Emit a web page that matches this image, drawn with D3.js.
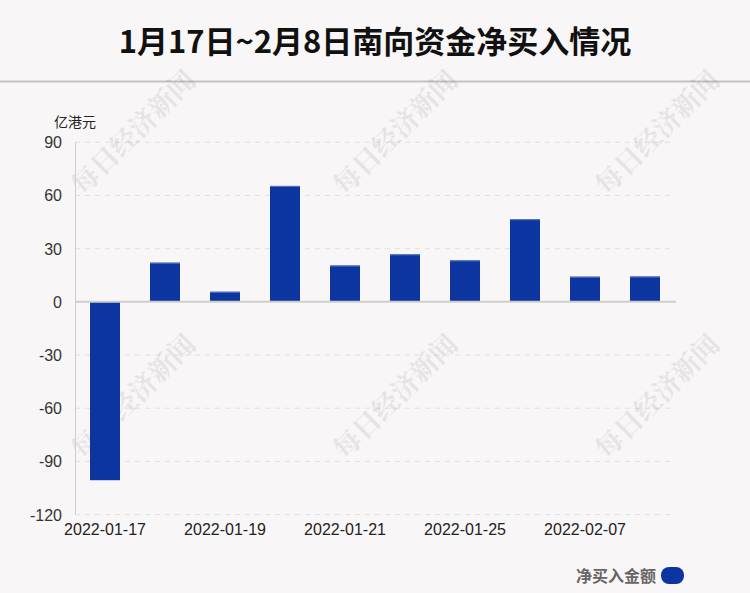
<!DOCTYPE html>
<html><head><meta charset="utf-8">
<script src="https://cdn.jsdelivr.net/npm/d3@7/dist/d3.min.js"></script>
<style>
html,body{margin:0;padding:0;background:#f9f6f7;}
svg{display:block;}
</style></head>
<body>
<svg id="chart" width="750" height="593"></svg>
<script>
const dates = ["2022-01-17","2022-01-18","2022-01-19","2022-01-20","2022-01-21","2022-01-24","2022-01-25","2022-01-26","2022-02-07","2022-02-08"];
const netBuy = [-100.6, 22.1, 5.7, 65.4, 20.5, 26.8, 23.4, 46.6, 14.2, 14.3];
const yTicks = [-120, -90, -60, -30, 0, 30, 60, 90];
const xTickLabels = ["2022-01-17","2022-01-19","2022-01-21","2022-01-25","2022-02-07"];
const titleText = "1月17日~2月8日南向资金净买入情况";
const unitText = "亿港元";
const legendText = "净买入金额";
const watermarkText = "每日经济新闻";

const svg = d3.select("#chart");
const W = 750, H = 593;
const barColor = "#0c35a0";

svg.append("rect").attr("width", W).attr("height", H).attr("fill", "#f9f6f7");

// title
svg.append("text").attr("x", 375).attr("y", 39)
  .attr("text-anchor", "middle").attr("dominant-baseline", "central")
  .attr("font-family", "'Noto Sans CJK SC', sans-serif").attr("font-weight", "bold")
  .attr("font-size", 31).attr("fill", "#111").text(titleText);
svg.append("line").attr("x1", 0).attr("x2", W).attr("y1", 81.5).attr("y2", 81.5)
  .attr("stroke", "#c4c2c3").attr("stroke-width", 2);

const x = d3.scaleBand().domain(dates).range([75, 675]).paddingInner(0.5).paddingOuter(0.25);
const y = d3.scaleLinear().domain([-120, 90]).range([514.6, 142.3]);

// gridlines
svg.append("g").selectAll("line").data(yTicks.filter(d => d !== 0)).join("line")
  .attr("x1", 75).attr("x2", 672).attr("y1", d => y(d)).attr("y2", d => y(d))
  .attr("stroke", "#e2dfe0").attr("stroke-width", 1).attr("stroke-dasharray", "5,5");

// watermarks
const wmX = [132, 394, 656], wmY = [131, 395];
const wm = svg.append("g");
wmY.forEach(cy => wmX.forEach(cx => {
  wm.append("text").attr("transform", `translate(${cx},${cy}) rotate(-45)`)
    .attr("text-anchor", "middle").attr("dominant-baseline", "central")
    .attr("font-family", "'Noto Serif CJK SC', 'Noto Sans CJK SC', serif").attr("font-weight", "bold")
    .attr("font-size", 27).attr("fill", "#000").attr("opacity", 0.07)
    .text(watermarkText);
}));

// y axis line
svg.append("line").attr("x1", 75.5).attr("x2", 75.5).attr("y1", y(90)).attr("y2", y(-120))
  .attr("stroke", "#cfcccd").attr("stroke-width", 1);

// y tick labels
const yAxis = d3.axisLeft(y).tickValues(yTicks).tickSize(0).tickPadding(0).tickFormat(d => String(d));
const gy = svg.append("g").attr("transform", "translate(62,0)").call(yAxis);
gy.select(".domain").remove();
gy.selectAll("text").attr("font-family", "'Liberation Sans', Arial, sans-serif")
  .attr("font-size", 16).attr("fill", "#333").attr("dy", "0.34em");

// bars
const bars = svg.append("g");
bars.selectAll("rect").data(netBuy).join("rect")
  .attr("x", (d, i) => x(dates[i]))
  .attr("width", x.bandwidth())
  .attr("y", d => y(Math.max(0, d)))
  .attr("height", d => Math.abs(y(d) - y(0)))
  .attr("fill", barColor);
netBuy.forEach((d, i) => {
  if (d > 0) {
    bars.append("line").attr("x1", x(dates[i])).attr("x2", x(dates[i]) + x.bandwidth())
      .attr("y1", y(d) + 0.5).attr("y2", y(d) + 0.5)
      .attr("stroke", "#5c78c2").attr("stroke-width", 1);
  }
});

// zero line
svg.append("line").attr("x1", 75).attr("x2", 676).attr("y1", y(0)).attr("y2", y(0))
  .attr("stroke", "#cfcccd").attr("stroke-width", 2);

// x axis labels
const xAxis = d3.axisBottom(x).tickValues(xTickLabels).tickSize(0).tickPadding(0);
const gx = svg.append("g").attr("transform", `translate(0,${y(-120)})`).call(xAxis);
gx.select(".domain").remove();
gx.selectAll("text").attr("font-family", "'Liberation Sans', Arial, sans-serif")
  .attr("font-size", 16).attr("fill", "#222").attr("dy", "1.3em");

// unit
svg.append("text").attr("x", 54).attr("y", 121).attr("dominant-baseline", "central")
  .attr("font-family", "'Noto Sans CJK SC', sans-serif").attr("font-size", 14)
  .attr("fill", "#222").text(unitText);

// legend
svg.append("text").attr("x", 656).attr("y", 574.5).attr("text-anchor", "end")
  .attr("dominant-baseline", "central")
  .attr("font-family", "'Noto Sans CJK SC', sans-serif").attr("font-weight", "bold")
  .attr("font-size", 16).attr("fill", "#666").text(legendText);
svg.append("rect").attr("x", 661).attr("y", 567).attr("width", 23).attr("height", 17)
  .attr("rx", 8).attr("ry", 8).attr("fill", barColor);
</script>
</body></html>
